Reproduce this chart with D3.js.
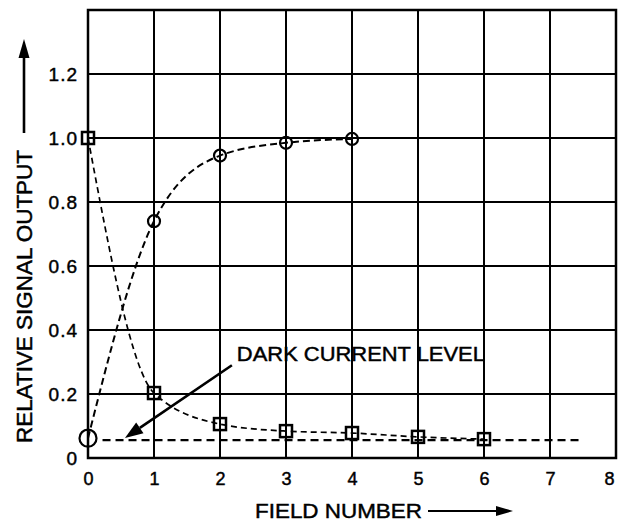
<!DOCTYPE html>
<html>
<head>
<meta charset="utf-8">
<script src="https://cdn.jsdelivr.net/npm/d3@7"></script>
<style>
  html, body { margin: 0; padding: 0; background: #fff; }
  svg { display: block; font-family: "Liberation Sans", Arial, Helvetica, sans-serif; }
  svg text { fill: #000; stroke: #000; stroke-width: 0.45px; }
</style>
</head>
<body>
<svg id="chart" width="618" height="522"></svg>
<script>
// field number vs relative output
const fields = [0, 1, 2, 3, 4, 5, 6];
const risingOutput = [0.062, 0.74, 0.945, 0.985, 0.997];
const decayOutput = [1.0, 0.203, 0.106, 0.084, 0.078, 0.066, 0.059];
const darkLevelX = [0.22, 7.5];
const darkLevelY = 0.056;
const arrowFrom = [2.18, 0.29];
const arrowTo = [0.56, 0.0625];
const xTicks = [0, 1, 2, 3, 4, 5, 6, 7, 8];
const yTicks = [0, 0.2, 0.4, 0.6, 0.8, 1.0, 1.2];
const annotation = "DARK CURRENT LEVEL";

const width = 618;
const height = 522;
const margin = { top: 10, right: 2, bottom: 64, left: 88 };
const innerW = width - margin.left - margin.right;
const innerH = height - margin.top - margin.bottom;

const svg = d3.select("#chart");
const g = svg.append("g").attr("transform", `translate(${margin.left},${margin.top})`);

const x = d3.scaleLinear().domain([0, 8]).range([0, innerW]);
const y = d3.scaleLinear().domain([0, 1.4]).range([innerH, 0]);

// line with a filled triangular head at (x2, y2)
function arrow(parent, x1, y1, x2, y2, w, len, half) {
  const a = Math.atan2(y2 - y1, x2 - x1);
  const bx = x2 - len * Math.cos(a);
  const by = y2 - len * Math.sin(a);
  parent.append("line")
    .attr("x1", x1).attr("y1", y1).attr("x2", bx).attr("y2", by)
    .attr("stroke", "#000").attr("stroke-width", w);
  const nx = -Math.sin(a) * half;
  const ny = Math.cos(a) * half;
  parent.append("path")
    .attr("d", `M${x2},${y2}L${bx + nx},${by + ny}L${bx - nx},${by - ny}Z`)
    .attr("fill", "#000");
}

// grid
g.append("g")
  .selectAll("line")
  .data(xTicks.slice(1, -1))
  .join("line")
  .attr("x1", (d) => x(d)).attr("x2", (d) => x(d))
  .attr("y1", 0).attr("y2", innerH)
  .attr("stroke", "#000").attr("stroke-width", 2);

g.append("g")
  .selectAll("line")
  .data(yTicks.slice(1))
  .join("line")
  .attr("x1", 0).attr("x2", innerW)
  .attr("y1", (d) => y(d)).attr("y2", (d) => y(d))
  .attr("stroke", "#000").attr("stroke-width", 2);

g.append("rect")
  .attr("width", innerW).attr("height", innerH)
  .attr("fill", "none").attr("stroke", "#000").attr("stroke-width", 2.5);

// axes
const xAxis = d3.axisBottom(x).tickValues(xTicks).tickSize(0).tickPadding(14).tickFormat(d3.format("d"));
g.append("g")
  .attr("transform", `translate(0,${innerH})`)
  .call(xAxis)
  .call((a) => a.select(".domain").remove())
  .selectAll("text")
  .attr("font-size", 18).attr("fill", "#000")
  // last label sits on the page edge, keep it inside
  .filter((d) => d === 8)
  .attr("text-anchor", "end").attr("dx", -2);

const yAxis = d3.axisLeft(y).tickValues(yTicks).tickSize(0).tickPadding(10)
  .tickFormat((d) => (d === 0 ? "0" : d3.format(".1f")(d)));
g.append("g")
  .call(yAxis)
  .call((a) => a.select(".domain").remove())
  .selectAll("text")
  .attr("font-size", 19).attr("letter-spacing", 1).attr("fill", "#000");

// curves
const line = d3.line().x((d) => x(d[0])).y((d) => y(d[1])).curve(d3.curveMonotoneX);
const rising = risingOutput.map((v, i) => [fields[i], v]);
const decay = decayOutput.map((v, i) => [fields[i], v]);

g.append("path")
  .attr("d", line(rising))
  .attr("fill", "none").attr("stroke", "#000")
  .attr("stroke-width", 2).attr("stroke-dasharray", "7,4");

g.append("path")
  .attr("d", line(decay))
  .attr("fill", "none").attr("stroke", "#000")
  .attr("stroke-width", 1.7).attr("stroke-dasharray", "6,4");

g.append("line")
  .attr("x1", x(darkLevelX[0])).attr("x2", x(darkLevelX[1]))
  .attr("y1", y(darkLevelY)).attr("y2", y(darkLevelY))
  .attr("stroke", "#000").attr("stroke-width", 2.2).attr("stroke-dasharray", "8,5");

// markers
g.selectAll("circle.pt")
  .data(rising)
  .join("circle")
  .attr("class", "pt")
  .attr("cx", (d) => x(d[0])).attr("cy", (d) => y(d[1]))
  .attr("r", (d, i) => (i === 0 ? 8.5 : 6))
  .attr("fill", "none").attr("stroke", "#000").attr("stroke-width", 2.2);

const sq = 12;
g.selectAll("rect.pt")
  .data(decay)
  .join("rect")
  .attr("class", "pt")
  .attr("x", (d) => x(d[0]) - sq / 2).attr("y", (d) => y(d[1]) - sq / 2)
  .attr("width", sq).attr("height", sq)
  .attr("fill", "none").attr("stroke", "#000").attr("stroke-width", 2.5);

// annotation
arrow(g, x(arrowFrom[0]), y(arrowFrom[1]), x(arrowTo[0]), y(arrowTo[1]), 2.6, 18, 6.5);

g.append("text")
  .attr("x", x(arrowFrom[0]) + 5).attr("y", y(arrowFrom[1]) - 4)
  .attr("font-size", 20).attr("textLength", 248).attr("lengthAdjust", "spacingAndGlyphs")
  .text(annotation);

// axis titles
svg.append("text")
  .attr("x", 255).attr("y", 518)
  .attr("font-size", 21).attr("textLength", 167).attr("lengthAdjust", "spacingAndGlyphs")
  .text("FIELD NUMBER");
arrow(svg, 428, 511, 513, 511, 2, 17, 5);

svg.append("text")
  .attr("transform", "translate(32,443) rotate(-90)")
  .attr("font-size", 22).attr("textLength", 293).attr("lengthAdjust", "spacingAndGlyphs")
  .text("RELATIVE SIGNAL OUTPUT");
arrow(svg, 24, 133, 24, 39, 2.6, 19, 5.5);
</script>
</body>
</html>
